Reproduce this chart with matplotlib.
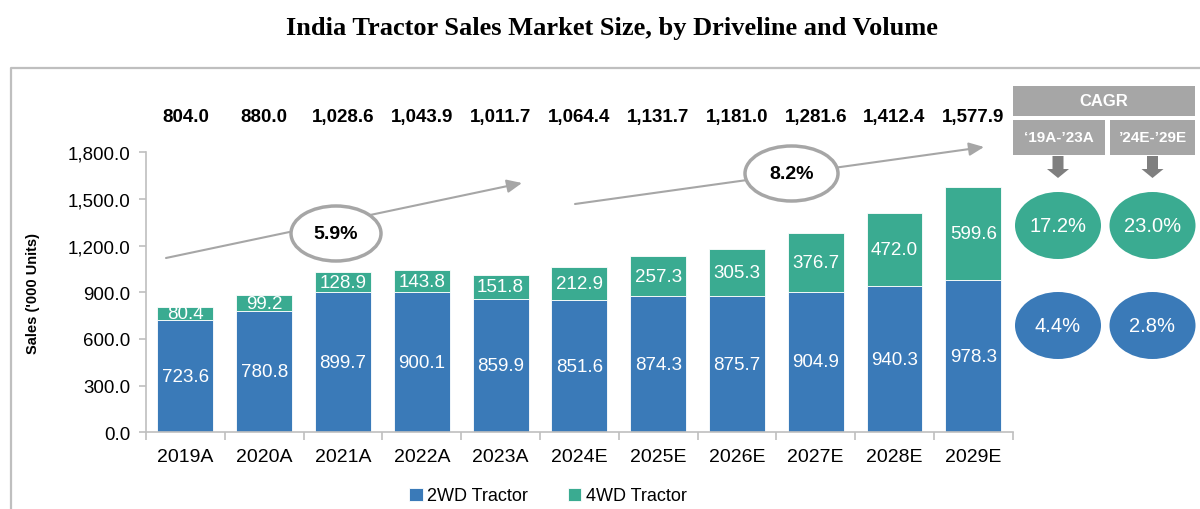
import matplotlib
matplotlib.use("Agg")
import matplotlib.pyplot as plt
import numpy as np
from matplotlib.patches import Ellipse, Rectangle, FancyArrow

# data
years = ["2019A", "2020A", "2021A", "2022A", "2023A", "2024E",
         "2025E", "2026E", "2027E", "2028E", "2029E"]
wd2 = [723.6, 780.8, 899.7, 900.1, 859.9, 851.6, 874.3, 875.7, 904.9, 940.3, 978.3]
wd4 = [80.4, 99.2, 128.9, 143.8, 151.8, 212.9, 257.3, 305.3, 376.7, 472.0, 599.6]
totals = [804.0, 880.0, 1028.6, 1043.9, 1011.7, 1064.4, 1131.7, 1181.0, 1281.6, 1412.4, 1577.9]
yticks = [0, 300, 600, 900, 1200, 1500, 1800]
cagr_total = ["5.9%", "8.2%"]
cagr_periods = ["\u201819A-\u201923A", "\u201924E-\u201929E"]
cagr_4wd = ["17.2%", "23.0%"]
cagr_2wd = ["4.4%", "2.8%"]

blue = "#3a7ab8"
teal = "#3aab91"
grey = "#a6a6a6"
dgrey = "#7f7f7f"
font = "Liberation Sans"

W, H = 1200, 510
fig = plt.figure(figsize=(12, 5.1), dpi=100)

# main chart
ax = fig.add_axes([146 / W, 1 - 433.3 / H, 866.7 / W, 280 / H])
x = np.arange(len(years))
b1 = ax.bar(x, wd2, width=0.71, color=blue, edgecolor="white", linewidth=0.6, label="2WD Tractor")
b2 = ax.bar(x, wd4, width=0.71, bottom=wd2, color=teal, edgecolor="white", linewidth=0.6, label="4WD Tractor")
ax.bar_label(b1, labels=[f"{v:,.1f}" for v in wd2], label_type="center",
             color="white", fontsize=13.5, family=font)
ax.bar_label(b2, labels=[f"{v:,.1f}" for v in wd4], label_type="center",
             color="white", fontsize=13.5, family=font)
for i, t in enumerate(totals):
    ax.text(i, 2033, f"{t:,.1f}", ha="center", va="center", fontsize=13.5,
            fontweight="bold", family=font, clip_on=False)

ax.set_xlim(-0.5, len(years) - 0.5)
ax.set_ylim(0, 1800)
ax.set_yticks(yticks)
ax.set_yticklabels([f"{v:,.1f}" for v in yticks], fontsize=13.5, family=font)
ax.set_xticks(x)
ax.set_xticklabels(years, fontsize=14, family=font)
ax.set_xticks(np.arange(-0.5, len(years)), minor=True)
ax.tick_params(axis="x", which="major", length=0, pad=11)
ax.tick_params(axis="x", which="minor", length=6, color="#bfbfbf", width=1.2)
ax.tick_params(axis="y", length=5, color="#bfbfbf", width=1.2, pad=6)
for s in ["top", "right"]:
    ax.spines[s].set_visible(False)
for s in ["left", "bottom"]:
    ax.spines[s].set_color("#bfbfbf")
    ax.spines[s].set_linewidth(1.2)
ax.set_ylabel("Sales ('000 Units)", fontsize=10.5, fontweight="bold", family=font)
ax.yaxis.set_label_coords((40 - 146) / 866.7, 0.5)

ax.legend(loc="center", bbox_to_anchor=(548 / W, 1 - 497 / H), bbox_transform=fig.transFigure,
          ncol=2, frameon=False, handlelength=0.75, handleheight=0.75, handletextpad=0.25,
          columnspacing=2.2, prop={"family": font, "size": 13})

fig.text(612 / W, 1 - 28 / H, "India Tractor Sales Market Size, by Driveline and Volume",
         ha="center", va="center", fontsize=19, fontweight="bold", family="Liberation Serif")

# overlay in pixel coordinates for the decorations
ov = fig.add_axes([0, 0, 1, 1], zorder=5)
ov.set_xlim(0, W)
ov.set_ylim(H, 0)
ov.axis("off")
ov.patch.set_alpha(0)

# outer frame
ov.plot([11, 11, W + 5], [H + 5, 69, 69], color="#bfbfbf", lw=1.6)

# growth arrows with CAGR ellipses
for (x0, y0, x1, y1), (cx, cy, w, h), txt in [
        ((166, 259, 522, 184), (336, 234.5, 90, 55), cagr_total[0]),
        ((575, 205, 984, 148), (791.5, 174.5, 93, 55), cagr_total[1])]:
    ov.annotate("", xy=(x1, y1), xytext=(x0, y0),
                arrowprops=dict(arrowstyle="-|>,head_length=0.9,head_width=0.4",
                                color=grey, lw=1.5, shrinkA=0, shrinkB=0))
    ov.add_patch(Ellipse((cx, cy), w, h, facecolor="white", edgecolor=grey, lw=2.5, zorder=3))
    ov.text(cx, cy, txt, ha="center", va="center", fontsize=14, fontweight="bold",
            family=font, zorder=4)

# CAGR side panel
ov.add_patch(Rectangle((1013, 87), 182, 30, facecolor=grey, edgecolor="none"))
ov.text(1104, 102, "CAGR", ha="center", va="center", color="white", fontsize=12,
        fontweight="bold", family=font)
for (bx, bw, cx), per, v4, v2 in zip([(1013, 92, 1058), (1110, 85, 1152.5)],
                                     cagr_periods, cagr_4wd, cagr_2wd):
    ov.add_patch(Rectangle((bx, 121), bw, 35, facecolor=grey, edgecolor="none"))
    ov.text(bx + bw / 2, 138.5, per, ha="center", va="center", color="white", fontsize=11,
            fontweight="bold", family=font)
    ov.add_patch(FancyArrow(cx, 157, 0, 22, width=11, head_width=22, head_length=9,
                            length_includes_head=True, color=dgrey, lw=0))
    ov.add_patch(Ellipse((cx, 226.5), 86, 67, facecolor=teal, edgecolor="none"))
    ov.text(cx, 226.5, v4, ha="center", va="center", color="white", fontsize=14.5,
            family=font)
    ov.add_patch(Ellipse((cx, 326.5), 86, 67, facecolor=blue, edgecolor="none"))
    ov.text(cx, 326.5, v2, ha="center", va="center", color="white", fontsize=14.5,
            family=font)

fig.savefig("out.png", dpi=100)
